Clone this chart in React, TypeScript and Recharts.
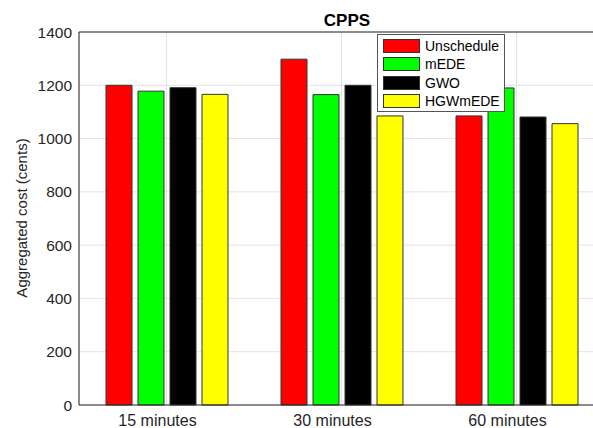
import React from 'react';
import { BarChart, Bar, XAxis, YAxis, CartesianGrid, Legend, ReferenceLine } from 'recharts';

const categories = ['15 minutes', '30 minutes', '60 minutes'];
const seriesNames = ['Unschedule', 'mEDE', 'GWO', 'HGWmEDE'];
const unschedule = [1200, 1298, 1085];
const mede = [1178, 1165, 1190];
const gwo = [1191, 1200, 1081];
const hgwmede = [1166, 1085, 1056];
const yTicks = [0, 200, 400, 600, 800, 1000, 1200, 1400];

const data = categories.map((name, i) => ({
  name,
  Unschedule: unschedule[i],
  mEDE: mede[i],
  GWO: gwo[i],
  HGWmEDE: hgwmede[i],
}));

const FONT = '"Liberation Sans", Arial, sans-serif';
const AXIS = '#262626';

const XTick = (props: any) => {
  const { x, y, payload } = props;
  return (
    <text x={x - 9} y={y} dy="0.71em" textAnchor="middle" fontSize={16} fontFamily={FONT} fill={AXIS}>
      {payload.value}
    </text>
  );
};

const LegendBox = (props: any) => {
  const items = [...(props.payload || [])].sort(
    (a: any, b: any) => seriesNames.indexOf(a.value) - seriesNames.indexOf(b.value)
  );
  return (
    <div
      style={{
        width: 126,
        height: 74,
        border: '1px solid #555',
        background: '#fff',
        fontFamily: FONT,
        fontSize: 14,
        color: '#000',
        paddingTop: 2,
        boxSizing: 'content-box',
      }}
    >
      {items.map((it: any) => (
        <div key={it.value} style={{ display: 'flex', alignItems: 'center', height: 18.3 }}>
          <span
            style={{
              display: 'inline-block',
              width: 35,
              height: 12,
              marginLeft: 5,
              marginRight: 5,
              background: it.color,
              border: '1px solid #333',
            }}
          />
          <span>{it.value}</span>
        </div>
      ))}
    </div>
  );
};

export default function App() {
  return (
    <div style={{ position: 'absolute', left: 0, top: 0, width: 593, height: 428, overflow: 'hidden', background: '#fff' }}>
      <BarChart
        width={610}
        height={428}
        data={data}
        margin={{ top: 32, right: 6, bottom: 0, left: 0 }}
        barSize={26}
        barGap={6}
      >
        <CartesianGrid stroke="#e3e3e3" strokeWidth={1} />
        <XAxis
          dataKey="name"
          height={23}
          tickSize={0}
          tickMargin={10}
          tick={<XTick />}
          axisLine={{ stroke: AXIS, strokeWidth: 1 }}
          tickLine={false}
        />
        <YAxis
          width={79}
          domain={[0, 1400]}
          ticks={yTicks}
          interval={0}
          tickSize={0}
          tickMargin={7}
          tickLine={false}
          axisLine={{ stroke: AXIS, strokeWidth: 1 }}
          tick={{ fontSize: 15.5, fontFamily: FONT, fill: AXIS }}
        />
        <ReferenceLine y={1400} stroke={AXIS} strokeWidth={1} />
        <Legend
          layout="horizontal"
          verticalAlign="middle"
          align="center"
          content={<LegendBox />}
          wrapperStyle={{ position: 'absolute', left: 377, top: 34, width: 'auto', height: 'auto' }}
        />
        <Bar dataKey="Unschedule" fill="#ff0000" stroke="#333" strokeWidth={1} isAnimationActive={false} />
        <Bar dataKey="mEDE" fill="#00ff00" stroke="#333" strokeWidth={1} isAnimationActive={false} />
        <Bar dataKey="GWO" fill="#000000" stroke="#333" strokeWidth={1} isAnimationActive={false} />
        <Bar dataKey="HGWmEDE" fill="#ffff00" stroke="#333" strokeWidth={1} isAnimationActive={false} />
        <text x={347} y={26} textAnchor="middle" fontSize={17} fontWeight="bold" fontFamily={FONT} fill="#000">
          CPPS
        </text>
        <text
          x={27}
          y={218}
          textAnchor="middle"
          fontSize={15}
          fontFamily={FONT}
          fill={AXIS}
          transform="rotate(-90 27 218)"
        >
          Aggregated cost (cents)
        </text>
      </BarChart>
    </div>
  );
}
